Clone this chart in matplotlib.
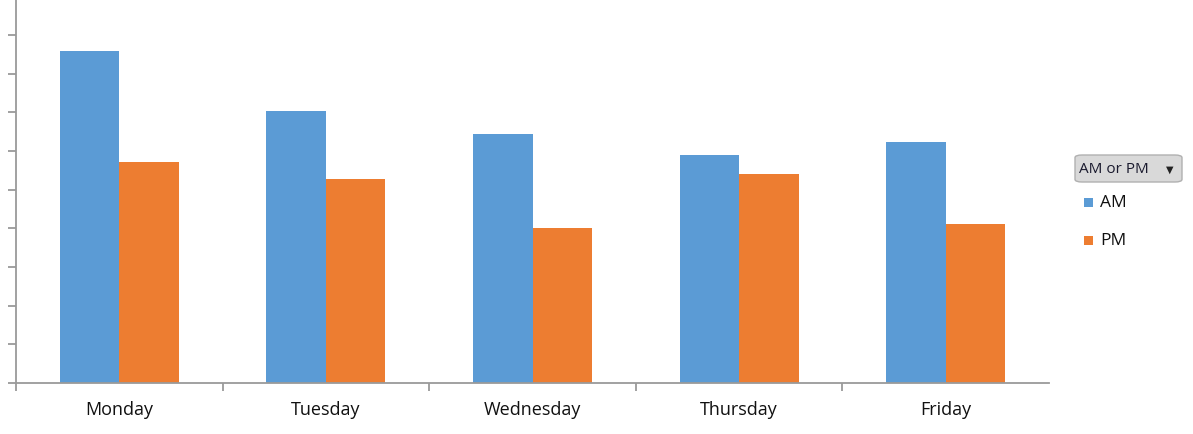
import numpy as np
import matplotlib
matplotlib.use("Agg")
import matplotlib.pyplot as plt
from matplotlib.patches import FancyBboxPatch, Rectangle

# data (arbitrary units, axis has no labels)
days = ["Monday", "Tuesday", "Wednesday", "Thursday", "Friday"]
am = [8.59, 7.04, 6.44, 5.90, 6.24]
pm = [5.72, 5.28, 4.01, 5.41, 4.11]
series = ["AM", "PM"]
colors = ["#5B9BD5", "#ED7D31"]

W, H = 1193, 435
fig = plt.figure(figsize=(W / 100, H / 100), dpi=100)
ax = fig.add_axes([16 / W, 1 - 384 / H, (1049 - 16) / W, 384 / H])

x = np.arange(len(days))
bw = 0.288
ax.bar(x - bw / 2, am, bw, color=colors[0], linewidth=0)
ax.bar(x + bw / 2, pm, bw, color=colors[1], linewidth=0)

ax.set_xlim(-0.5, len(days) - 0.5)
ax.set_ylim(0, 9.935)
for s in ("top", "right"):
    ax.spines[s].set_visible(False)
for s in ("left", "bottom"):
    ax.spines[s].set_color("#9a9a9a")
    ax.spines[s].set_linewidth(1.3)

ax.set_yticks(np.arange(0, 10))
ax.set_yticklabels([])
ax.tick_params(axis="y", length=6, width=1.3, color="#9a9a9a", direction="out")

# category ticks at boundaries (no tick at the far right), labels at centres
ax.set_xticks(np.arange(-0.5, len(days) - 1, 1.0))
ax.set_xticklabels([])
ax.set_xticks(x, minor=True)
ax.set_xticklabels(days, minor=True, fontsize=13, family="Open Sans", color="#111111")
ax.tick_params(axis="x", which="major", length=6, width=1.3, color="#9a9a9a")
ax.tick_params(axis="x", which="minor", length=0, pad=12)

# pivot-chart field button
btn = FancyBboxPatch((1075 / W, 1 - 183 / H), 107 / W, 27 / H,
                     boxstyle="round,pad=0,rounding_size=0.006",
                     transform=fig.transFigure, facecolor="#d9d9d9",
                     edgecolor="#b0b0b0", linewidth=1.0)
fig.patches.append(btn)
fig.text(1079 / W, 1 - 170 / H, "AM or PM", fontsize=11, family="Open Sans",
         color="#1a1a2e", va="center", ha="left")
fig.text(1170 / W, 1 - 170 / H, "\u25BC", fontsize=7, color="#222222",
         va="center", ha="center")

# legend
for i, (lab, c) in enumerate(zip(series, colors)):
    yc = 203 + i * 38
    fig.patches.append(Rectangle((1084 / W, 1 - (yc + 4.5) / H), 9 / W, 9 / H,
                                 transform=fig.transFigure, facecolor=c, linewidth=0))
    fig.text(1100 / W, 1 - yc / H, lab, fontsize=12.5, family="Open Sans",
             color="#111111", va="center", ha="left")

fig.savefig("out.png", dpi=100, facecolor="white")
